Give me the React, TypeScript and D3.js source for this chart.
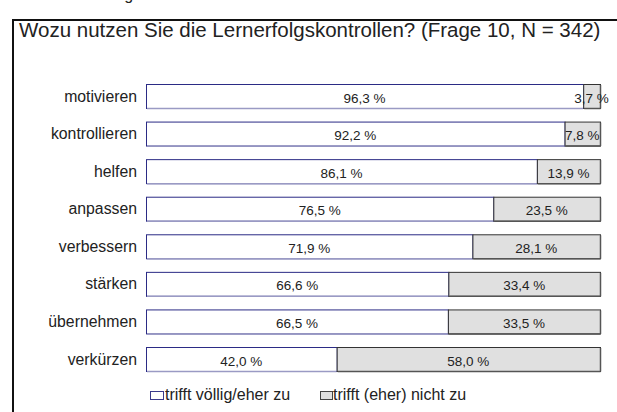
import React from "react";
import * as d3 from "d3";

const categories = ["motivieren", "kontrollieren", "helfen", "anpassen", "verbessern", "stärken", "übernehmen", "verkürzen"];
const agree = [96.3, 92.2, 86.1, 76.5, 71.9, 66.6, 66.5, 42.0];
const disagree = [3.7, 7.8, 13.9, 23.5, 28.1, 33.4, 33.5, 58.0];
const seriesNames = ["trifft völlig/eher zu", "trifft (eher) nicht zu"];
const title = "Wozu nutzen Sie die Lernerfolgskontrollen? (Frage 10, N = 342)";

const W = 617;
const H = 412;
const FONT = "'Liberation Sans', Arial, sans-serif";
const fmt = (v: number) => v.toFixed(1).replace(".", ",") + " %";

export default function App() {
  const x = d3.scaleLinear().domain([0, 100]).range([146, 600]);
  const y = d3.scalePoint<string>().domain(categories).range([96, 359]);
  const bh = 24;

  return (
    <svg width={W} height={H} style={{ position: "absolute", left: 0, top: 0, background: "#fff" }} fontFamily={FONT}>
      <rect x={0} y={0} width={W} height={H} fill="#fff" />
      <text x={62} y={-0.5} fontSize={16} fill="#222">Abbildung</text>
      <line x1={13} y1={19} x2={13} y2={H} stroke="#111" strokeWidth={2} />
      <line x1={12} y1={20} x2={W} y2={20} stroke="#111" strokeWidth={2} />
      <text x={19} y={37} fontSize={20.5} fill="#222">{title}</text>
      {categories.map((c, i) => {
        const cy = y(c)!;
        const top = cy - bh / 2;
        const x0 = x(0);
        const x1 = x(agree[i]);
        const x2 = x(agree[i] + disagree[i]);
        return (
          <g key={c}>
            <text x={137} y={cy + 5.5} fontSize={15.8} textAnchor="end" fill="#222">{c}</text>
            <rect x={x0 + 0.5} y={top + 0.5} width={x1 - x0} height={bh} fill="#fff" stroke="#2b2b85" strokeWidth={1} />
            <line x1={x0 + 1} y1={top + bh + 0.5} x2={x1} y2={top + bh + 0.5} stroke="#9a9ac4" strokeWidth={1.5} />
            <rect x={x1 + 0.5} y={top + 0.5} width={x2 - x1} height={bh} fill="#e0e0e0" stroke="#333" strokeWidth={1} />
            <line x1={x1 + 1} y1={top + bh + 0.5} x2={x2 + 0.5} y2={top + bh + 0.5} stroke="#555" strokeWidth={1.5} />
            <line x1={x2 + 0.5} y1={top + 1} x2={x2 + 0.5} y2={top + bh + 0.5} stroke="#555" strokeWidth={1.5} />
            <text x={(x0 + x1) / 2} y={cy + 6.5} fontSize={13.5} textAnchor="middle" fill="#222">{fmt(agree[i])}</text>
            <text x={(x1 + x2) / 2} y={cy + 6.5} fontSize={13.5} textAnchor="middle" fill="#222">{fmt(disagree[i])}</text>
          </g>
        );
      })}
      <g>
        <rect x={150.5} y={391.5} width={13} height={8} fill="#fff" stroke="#3a3a8c" />
        <text x={165} y={400} fontSize={16} fill="#222">{seriesNames[0]}</text>
        <rect x={320.5} y={391.5} width={12} height={8} fill="#e0e0e0" stroke="#444" />
        <text x={333} y={400} fontSize={16} fill="#222">{seriesNames[1]}</text>
      </g>
    </svg>
  );
}
